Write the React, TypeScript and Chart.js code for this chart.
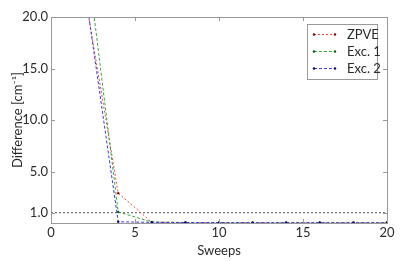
import React, { useEffect, useRef } from "react";
import { Chart, registerables } from "chart.js";

Chart.register(...registerables);

const sweeps = [2, 4, 6, 8, 10, 12, 14, 16, 18, 20];
const zpve = [22.4, 2.9, 0.08, 0.04, 0.03, 0.03, 0.02, 0.02, 0.02, 0.02];
const exc1 = [27.6, 1.07, 0.1, 0.05, 0.04, 0.03, 0.03, 0.02, 0.02, 0.02];
const exc2 = [22.9, 0.12, 0.06, 0.04, 0.03, 0.03, 0.02, 0.02, 0.02, 0.02];
const thresholdX = [0, 20];
const thresholdY = [1.0, 1.0];
const seriesLabels = ["ZPVE", "Exc. 1", "Exc. 2"];
const xTicks = [0, 5, 10, 15, 20];
const yTicks = [1.0, 5.0, 10.0, 15.0, 20.0];

const lineColors = ["#e8494a", "#3aaa3a", "#3a3ae0"];
const markerColors = ["#8b0000", "#006400", "#00008b"];
const dashes = [[2, 2], [3, 2], [3, 2]];
const FONT = "Lato, 'Open Sans', sans-serif";
const TEXT = "#2a2a2a";

const framePlugin = {
  id: "frameAndLegend",
  afterDraw(chart: any) {
    const { ctx, chartArea: a, scales } = chart;
    ctx.save();
    ctx.strokeStyle = "#999";
    ctx.lineWidth = 1;
    ctx.setLineDash([]);
    ctx.strokeRect(a.left + 0.5, a.top + 0.5, a.right - a.left, a.bottom - a.top);
    ctx.beginPath();
    xTicks.forEach((v) => {
      const x = Math.round(scales.x.getPixelForValue(v)) + 0.5;
      ctx.moveTo(x, a.bottom);
      ctx.lineTo(x, a.bottom - 4);
      ctx.moveTo(x, a.top);
      ctx.lineTo(x, a.top + 4);
    });
    yTicks.forEach((v) => {
      const y = Math.round(scales.y.getPixelForValue(v)) + 0.5;
      ctx.moveTo(a.left, y);
      ctx.lineTo(a.left + 4, y);
      ctx.moveTo(a.right, y);
      ctx.lineTo(a.right - 4, y);
    });
    ctx.stroke();

    const bx = 307.5, by = 24.5, bw = 70, bh = 55;
    ctx.fillStyle = "#fff";
    ctx.fillRect(bx, by, bw, bh);
    ctx.strokeStyle = "#999";
    ctx.strokeRect(bx, by, bw, bh);
    const rows = [34, 51, 68];
    ctx.font = `13px ${FONT}`;
    ctx.textBaseline = "middle";
    ctx.textAlign = "left";
    seriesLabels.forEach((lab, i) => {
      const y = rows[i] + 0.5;
      ctx.strokeStyle = lineColors[i];
      ctx.setLineDash(dashes[i]);
      ctx.beginPath();
      ctx.moveTo(314, y);
      ctx.lineTo(335, y);
      ctx.stroke();
      ctx.setLineDash([]);
      ctx.fillStyle = markerColors[i];
      [314, 335].forEach((px) => {
        ctx.beginPath();
        ctx.arc(px, y, 1.2, 0, Math.PI * 2);
        ctx.fill();
      });
      ctx.fillStyle = TEXT;
      ctx.fillText(lab, 347, rows[i] + 1);
    });
    ctx.restore();
  },
};

export default function App() {
  const ref = useRef<HTMLCanvasElement>(null);
  useEffect(() => {
    if (!ref.current) return;
    const mk = (i: number, data: number[], order: number) => ({
      label: seriesLabels[i],
      data: sweeps.map((x, k) => ({ x, y: data[k] })),
      borderColor: lineColors[i],
      borderWidth: 1,
      borderDash: dashes[i],
      pointRadius: 1.2,
      pointBackgroundColor: markerColors[i],
      pointBorderColor: markerColors[i],
      pointBorderWidth: 0,
      fill: false,
      tension: 0,
      order,
    });
    const chart = new Chart(ref.current, {
      type: "line",
      data: {
        datasets: [
          {
            label: "threshold",
            data: thresholdX.map((x, k) => ({ x, y: thresholdY[k] })),
            borderColor: "#555",
            borderWidth: 1,
            borderDash: [2, 2],
            pointRadius: 0,
            order: 5,
          } as any,
          mk(0, zpve, 3),
          mk(1, exc1, 2),
          mk(2, exc2, 1),
        ],
      },
      plugins: [framePlugin],
      options: {
        animation: false,
        responsive: false,
        maintainAspectRatio: false,
        layout: { padding: { top: 17, right: 20, left: 0, bottom: 0 } },
        plugins: { legend: { display: false }, tooltip: { enabled: false } },
        scales: {
          x: {
            type: "linear",
            min: 0,
            max: 20,
            afterFit: (s: any) => { s.height = 38; },
            afterBuildTicks: (s: any) => { s.ticks = xTicks.map((v) => ({ value: v })); },
            grid: { display: false, drawTicks: false },
            border: { display: false },
            ticks: { color: TEXT, font: { family: FONT, size: 13 }, padding: 2, callback: (v: any) => String(v) },
            title: { display: true, text: "Sweeps", color: TEXT, font: { family: FONT, size: 13 }, padding: { top: 0, bottom: 2 } },
          },
          y: {
            type: "linear",
            min: 0,
            max: 20,
            afterFit: (s: any) => { s.width = 51; },
            afterBuildTicks: (s: any) => { s.ticks = yTicks.map((v) => ({ value: v })); },
            grid: { display: false, drawTicks: false },
            border: { display: false },
            ticks: { color: TEXT, font: { family: FONT, size: 13 }, padding: 3, callback: (v: any) => Number(v).toFixed(1) },
            title: { display: true, text: "Difference [cm⁻¹]", color: TEXT, font: { family: FONT, size: 13 }, padding: { top: 10, bottom: 0 } },
          },
        },
      },
    });
    return () => chart.destroy();
  }, []);
  return (
    <div style={{ position: "fixed", left: 0, top: 0, width: 407, height: 261, background: "#fff" }}>
      <canvas ref={ref} width={407} height={261} style={{ width: 407, height: 261 }} />
    </div>
  );
}
